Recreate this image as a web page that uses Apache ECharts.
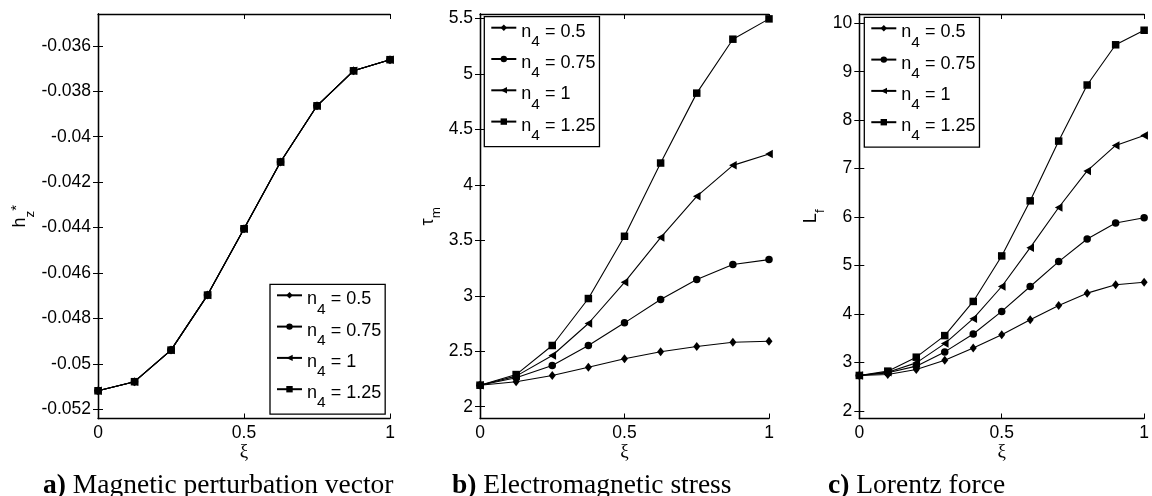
<!DOCTYPE html>
<html>
<head>
<meta charset="utf-8">
<script src="https://cdn.jsdelivr.net/npm/echarts@6/dist/echarts.min.js"></script>
<style>
  html, body { margin: 0; padding: 0; background: #fff; }
  #chart { width: 1152px; height: 496px; }
</style>
</head>
<body>
<div id="chart"></div>
<script>
// Dimensionless coordinate ξ along the plate
const xiA = [0, 0.125, 0.25, 0.375, 0.5, 0.625, 0.75, 0.875, 1];
const xiB = [0, 0.125, 0.25, 0.375, 0.5, 0.625, 0.75, 0.875, 1];
const xiC = [0, 0.1, 0.2, 0.3, 0.4, 0.5, 0.6, 0.7, 0.8, 0.9, 1];

// n4 values shown in the legends
const n4Values = ['0.5', '0.75', '1', '1.25'];

// a) magnetic perturbation vector h_z* (identical for every n4)
const hzStar = [-0.05118, -0.05078, -0.04939, -0.04697, -0.04405, -0.04111, -0.03864, -0.03710, -0.03661];

// b) electromagnetic stress τ_m
const tauN05  = [2.194, 2.225, 2.282, 2.356, 2.432, 2.495, 2.543, 2.581, 2.590];
const tauN075 = [2.194, 2.261, 2.372, 2.552, 2.756, 2.966, 3.146, 3.281, 3.326];
const tauN1   = [2.194, 2.276, 2.462, 2.750, 3.121, 3.524, 3.896, 4.175, 4.277];
const tauN125 = [2.194, 2.290, 2.552, 2.975, 3.536, 4.196, 4.826, 5.312, 5.495];

// c) Lorentz force L_f
const lfN05  = [2.733, 2.754, 2.857, 3.048, 3.300, 3.575, 3.884, 4.178, 4.431, 4.603, 4.657];
const lfN075 = [2.733, 2.787, 2.925, 3.219, 3.589, 4.055, 4.568, 5.082, 5.548, 5.877, 5.986];
const lfN1   = [2.733, 2.801, 2.993, 3.390, 3.904, 4.568, 5.370, 6.198, 6.952, 7.479, 7.685];
const lfN125 = [2.733, 2.822, 3.110, 3.555, 4.260, 5.199, 6.335, 7.568, 8.725, 9.555, 9.855];

// Tick values
const xTicks  = [0, 0.5, 1];
const yTicksA = [-0.052, -0.05, -0.048, -0.046, -0.044, -0.042, -0.04, -0.038, -0.036];
const yTicksB = [2, 2.5, 3, 3.5, 4, 4.5, 5, 5.5];
const yTicksC = [2, 3, 4, 5, 6, 7, 8, 9, 10];

const chart = echarts.init(document.getElementById('chart'), null, { renderer: 'canvas' });

const SANS = 'Liberation Sans';
const SERIF = 'Liberation Serif';
const BORDER = 1.3;

const markers = [
  { symbol: 'diamond', size: [7, 9] },
  { symbol: 'circle', size: 7.5 },
  { symbol: 'path://M0,5L9,0L9,10Z', size: 8.5 },
  { symbol: 'rect', size: 7.5 }
];
const seriesName = v => 'n4 = ' + v;

const grids = [
  { left: 98,    top: 14, width: 292, height: 404.5 },
  { left: 480,   top: 14, width: 289, height: 404.5 },
  { left: 859.3, top: 14, width: 292, height: 404.5 }
];
const yRanges = [
  { min: -0.0524, max: -0.0346, ticks: yTicksA },
  { min: 1.894,   max: 5.539,   ticks: yTicksB },
  { min: 1.845,   max: 10.19,   ticks: yTicksC }
];
const yNames = [
  { name: '{h|h}{z|z}{s|*}', gap: 64 },
  { name: '{t|τ}{m|m}', gap: 40 },
  { name: '{l|L}{f|f}', gap: 39 }
];

const tickStyle = { show: true, inside: true, length: 5, lineStyle: { color: '#000', width: 1 } };
const lineStyle = { show: true, lineStyle: { color: '#000', width: BORDER } };

const xAxes = [];
const yAxes = [];
grids.forEach((g, i) => {
  // bottom axis with labels
  xAxes.push({
    type: 'value', gridIndex: i, position: 'bottom', min: 0, max: 1, interval: 0.5,
    axisLine: lineStyle, axisTick: tickStyle, splitLine: { show: false },
    axisLabel: { show: true, customValues: xTicks, margin: 6, color: '#000', fontFamily: SANS, fontSize: 17.5 },
    name: 'ξ', nameLocation: 'middle', nameGap: 24, nameMoveOverlap: false,
    nameTextStyle: { fontFamily: SERIF, fontSize: 19, color: '#000' }
  });
  // top frame
  xAxes.push({
    type: 'value', gridIndex: i, position: 'top', min: 0, max: 1, interval: 0.5,
    axisLine: lineStyle, axisTick: tickStyle, splitLine: { show: false }, axisLabel: { show: false }
  });
  const r = yRanges[i];
  yAxes.push({
    type: 'value', gridIndex: i, position: 'left', min: r.min, max: r.max,
    axisLine: lineStyle, splitLine: { show: false },
    axisTick: Object.assign({}, tickStyle, { customValues: r.ticks }),
    axisLabel: { customValues: r.ticks, margin: 7, color: '#000', fontFamily: SANS, fontSize: 17.5 },
    name: yNames[i].name, nameLocation: 'middle', nameRotate: 90, nameGap: yNames[i].gap,
    nameTextStyle: {
      color: '#000', fontFamily: SANS, fontSize: 17,
      rich: {
        h: { fontFamily: SANS, fontSize: 18, lineHeight: 18, padding: [5, 0, 8, 0], verticalAlign: 'top' },
        z: { fontFamily: SANS, fontSize: 13.5, lineHeight: 14, padding: [17, 0, 0, 0], verticalAlign: 'top' },
        s: { fontFamily: SANS, fontSize: 15, lineHeight: 15, padding: [3, 0, 13, 0], verticalAlign: 'top' },
        t: { fontFamily: SANS, fontSize: 18, lineHeight: 18, padding: [0, 0, 8, 0], verticalAlign: 'top' },
        m: { fontFamily: SANS, fontSize: 13.5, lineHeight: 14, padding: [11, 0, 0, 0], verticalAlign: 'top' },
        l: { fontFamily: SANS, fontSize: 18, lineHeight: 18, padding: [0, 0, 8, 0], verticalAlign: 'top' },
        f: { fontFamily: SANS, fontSize: 13.5, lineHeight: 14, padding: [11, 0, 0, 0], verticalAlign: 'top' }
      }
    }
  });
  yAxes.push({
    type: 'value', gridIndex: i, position: 'right', min: r.min, max: r.max,
    axisLine: lineStyle, splitLine: { show: false },
    axisTick: Object.assign({}, tickStyle, { customValues: r.ticks }),
    axisLabel: { show: false }
  });
});

function lineSeries(panel, xs, ys, k) {
  return {
    type: 'line', name: seriesName(n4Values[k]),
    xAxisIndex: panel * 2, yAxisIndex: panel * 2,
    data: xs.map((x, j) => [x, ys[j]]),
    symbol: markers[k].symbol, symbolSize: markers[k].size, symbolKeepAspect: true,
    showAllSymbol: true, clip: false,
    lineStyle: { color: '#000', width: 1.1 },
    itemStyle: { color: '#000' },
    emphasis: { disabled: true },
    z: 2 + k
  };
}

const series = [];
[hzStar, hzStar, hzStar, hzStar].forEach((ys, k) => series.push(lineSeries(0, xiA, ys, k)));
[tauN05, tauN075, tauN1, tauN125].forEach((ys, k) => series.push(lineSeries(1, xiB, ys, k)));
[lfN05, lfN075, lfN1, lfN125].forEach((ys, k) => series.push(lineSeries(2, xiC, ys, k)));

const legendRich = {
  m: { fontFamily: SANS, fontSize: 18, lineHeight: 18, padding: [4, 0, 9, 0], verticalAlign: 'top', color: '#000' },
  s: { fontFamily: SANS, fontSize: 15.5, lineHeight: 16, padding: [15, 0, 0, 0], verticalAlign: 'top', color: '#000' }
};
function makeLegend(left, top) {
  return {
    orient: 'vertical', left: left, top: top,
    data: n4Values.map(seriesName),
    itemWidth: 25, itemHeight: 8, itemGap: 0.3,
    padding: [2, 4, 3, 6],
    backgroundColor: '#fff', borderColor: '#000', borderWidth: BORDER,
    selectedMode: false,
    formatter: name => '{m|n}{s|4}{m| = ' + name.split(' = ')[1] + '}',
    textStyle: { color: '#000', fontFamily: SANS, fontSize: 18, rich: legendRich }
  };
}

const captionStyle = {
  fontFamily: SERIF, fontSize: 27.5, fontWeight: 'normal', color: '#000',
  rich: { b: { fontFamily: SERIF, fontSize: 27.5, fontWeight: 'bold', color: '#000' },
          n: { fontFamily: SERIF, fontSize: 27.5, color: '#000' } }
};

chart.setOption({
  animation: false,
  backgroundColor: '#fff',
  title: [
    { text: '{b|a)}{n| Magnetic perturbation vector}', left: 43, top: 472, padding: 0, textStyle: captionStyle },
    { text: '{b|b)}{n| Electromagnetic stress}', left: 452, top: 472, padding: 0, textStyle: captionStyle },
    { text: '{b|c)}{n| Lorentz force}', left: 828, top: 472, padding: 0, textStyle: captionStyle }
  ],
  grid: grids,
  xAxis: xAxes,
  yAxis: yAxes,
  legend: [makeLegend(270, 284.3), makeLegend(484.3, 16.7), makeLegend(864.3, 17.3)],
  series: series
});
</script>
</body>
</html>
